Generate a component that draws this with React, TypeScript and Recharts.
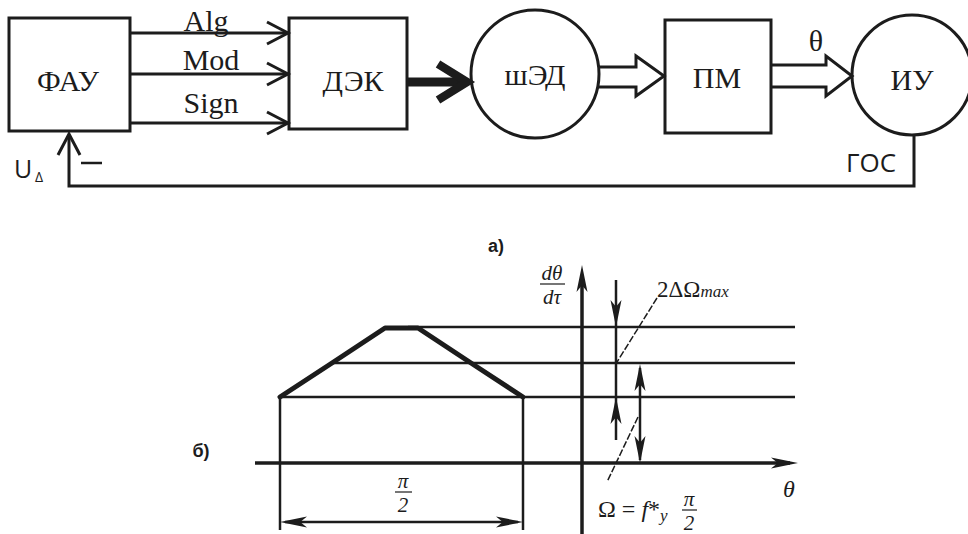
import React from 'react';
import { ComposedChart, XAxis, YAxis, Scatter, ReferenceArea, ReferenceDot } from 'recharts';

const W = 968;
const H = 534;
const INK = '#1c1c1c';
const SERIF = '"Liberation Serif", "Times New Roman", serif';
const SANS = '"Open Sans", "Liberation Sans", sans-serif';
const ARIAL = '"Liberation Sans", Arial, sans-serif';

type Pt = { x: number; y: number };

// ---------- a) block diagram ----------
const blocks = [
  { name: 'ФАУ', x1: 9, x2: 130, y1: 18, y2: 131 },
  { name: 'ДЭК', x1: 289, x2: 407, y1: 18, y2: 129 },
  { name: 'ПМ', x1: 665, x2: 771, y1: 20, y2: 133 },
];
const nodes = [
  { name: 'шЭД', x: 535, y: 74, r: 64 },
  { name: 'ИУ', x: 912, y: 75, r: 60 },
];
const signals = ['Alg', 'Mod', 'Sign'];
const signalY = [33, 74, 123];
const signalTextY = [31, 70, 113];
const signalTextX = [206, 211, 211];

const serifLabels = [
  { t: 'ФАУ', x: 68, y: 91 },
  { t: 'ДЭК', x: 353, y: 91 },
  { t: 'шЭД', x: 535, y: 85 },
  { t: 'ПМ', x: 717, y: 88 },
  { t: 'ИУ', x: 912, y: 90 },
  { t: 'θ', x: 816, y: 51 },
];

const boldArrow: Pt[] = [{ x: 407, y: 82 }, { x: 462, y: 82 }];
const boldHead: Pt[] = [{ x: 438, y: 64 }, { x: 467, y: 82 }, { x: 438, y: 100 }];
const hollowArrows: Pt[][] = [
  [{ x: 599, y: 67 }, { x: 636, y: 67 }, { x: 636, y: 56 }, { x: 664, y: 76 }, { x: 636, y: 96 }, { x: 636, y: 87 }, { x: 599, y: 87 }],
  [{ x: 771, y: 65 }, { x: 826, y: 65 }, { x: 826, y: 56 }, { x: 852, y: 76 }, { x: 826, y: 96 }, { x: 826, y: 87 }, { x: 771, y: 87 }],
];
const feedback: Pt[] = [{ x: 914, y: 135 }, { x: 914, y: 186 }, { x: 69, y: 186 }, { x: 69, y: 135 }];
const feedbackHead: Pt[] = [{ x: 58, y: 155 }, { x: 69, y: 134 }, { x: 80, y: 155 }];
const minusSign: Pt[] = [{ x: 81, y: 163 }, { x: 102, y: 163 }];

// ---------- б) speed graph ----------
const levels = [
  { y: 327, from: 408 },
  { y: 363, from: 332 },
  { y: 397, from: 280 },
];
const levelEnd = 795;
const curve: Pt[] = [
  { x: 280, y: 397 },
  { x: 332, y: 363 },
  { x: 385, y: 328 },
  { x: 418, y: 328 },
  { x: 471, y: 363 },
  { x: 523, y: 397 },
];
const axisH: Pt[] = [{ x: 255, y: 463 }, { x: 790, y: 463 }];
const axisV: Pt[] = [{ x: 582, y: 534 }, { x: 582, y: 275 }];
const thinLines: Pt[][] = [
  [{ x: 280, y: 397 }, { x: 280, y: 530 }],
  [{ x: 523, y: 397 }, { x: 523, y: 530 }],
  [{ x: 285, y: 522 }, { x: 518, y: 522 }],
  [{ x: 616, y: 280 }, { x: 616, y: 440 }],
  [{ x: 640, y: 368 }, { x: 640, y: 460 }],
];
const leaders: Pt[][] = [
  [{ x: 657, y: 298 }, { x: 617, y: 362 }],
  [{ x: 638, y: 417 }, { x: 607, y: 482 }],
];
const fractionBars: Pt[][] = [
  [{ x: 540, y: 284 }, { x: 565, y: 284 }],
  [{ x: 395, y: 492 }, { x: 412, y: 492 }],
  [{ x: 682, y: 510 }, { x: 697, y: 510 }],
];
const heads = [
  { x: 582, y: 265, dir: 'up' },
  { x: 798, y: 463, dir: 'right' },
  { x: 280, y: 522, dir: 'left' },
  { x: 523, y: 522, dir: 'right' },
  { x: 616, y: 327, dir: 'down' },
  { x: 616, y: 397, dir: 'up' },
  { x: 640, y: 364, dir: 'up' },
  { x: 640, y: 463, dir: 'down' },
];

const Empty = () => <g />;

const path = (key: string, pts: Pt[], w: number, extra: any = {}) => (
  <Scatter
    key={key}
    data={pts}
    dataKey="y"
    shape={Empty}
    line={{ stroke: INK, strokeWidth: w, fill: 'none', ...extra }}
    isAnimationActive={false}
  />
);

const label = (key: string, x: number, y: number, content: React.ReactNode, style: any, anchor = 'start') => (
  <ReferenceDot
    key={key}
    x={x}
    y={y}
    r={0}
    ifOverflow="visible"
    shape={(p: any) => (
      <text x={p.cx} y={p.cy} fill={INK} textAnchor={anchor} style={style}>
        {content}
      </text>
    )}
  />
);

const arrowHead = (dir: string) => (p: any) => {
  const { cx, cy } = p;
  const L = 27;
  const h = 5.5;
  let pts: number[][] = [];
  if (dir === 'up') pts = [[0, 0], [-h, L], [0, L * 0.75], [h, L]];
  if (dir === 'down') pts = [[0, 0], [-h, -L], [0, -L * 0.75], [h, -L]];
  if (dir === 'right') pts = [[0, 0], [-L, -h], [-L * 0.75, 0], [-L, h]];
  if (dir === 'left') pts = [[0, 0], [L, -h], [L * 0.75, 0], [L, h]];
  return <polygon points={pts.map(([dx, dy]) => `${cx + dx},${cy + dy}`).join(' ')} fill={INK} />;
};

const serif = { fontFamily: SERIF, fontSize: 30 };
const ital = { fontFamily: SERIF, fontStyle: 'italic', fontSize: 21 };

export default function App() {
  return (
    <div style={{ position: 'absolute', left: 0, top: 0, width: W, height: H, background: '#fff' }}>
      <ComposedChart width={W} height={H} margin={{ top: 0, right: 0, bottom: 0, left: 0 }}>
        <XAxis type="number" dataKey="x" domain={[0, W]} hide allowDataOverflow />
        <YAxis type="number" dataKey="y" domain={[0, H]} reversed hide allowDataOverflow />

        {blocks.map((b) => (
          <ReferenceArea key={b.name} x1={b.x1} x2={b.x2} y1={b.y1} y2={b.y2} fill="none" stroke={INK} strokeWidth={3} ifOverflow="visible" />
        ))}
        {nodes.map((n) => (
          <ReferenceDot key={n.name} x={n.x} y={n.y} r={n.r} fill="none" stroke={INK} strokeWidth={3} ifOverflow="visible" />
        ))}

        {signalY.map((y, i) => path(`sig${i}`, [{ x: 130, y }, { x: 288, y }], 3))}
        {signalY.map((y, i) =>
          path(`sigh${i}`, [{ x: 267, y: y - 11 }, { x: 288, y }, { x: 267, y: y + 11 }], 3)
        )}
        {path('bold', boldArrow, 9)}
        {path('boldh', boldHead, 8.5)}
        {hollowArrows.map((a, i) => path(`hol${i}`, a, 3))}
        {path('fb', feedback, 3)}
        {path('fbh', feedbackHead, 3)}
        {path('minus', minusSign, 2.5)}

        {levels.map((l, i) => path(`lvl${i}`, [{ x: l.from, y: l.y }, { x: levelEnd, y: l.y }], 2.5))}
        {path('axh', axisH, 3.5)}
        {path('axv', axisV, 3.5)}
        {thinLines.map((l, i) => path(`thin${i}`, l, 2.5))}
        {leaders.map((l, i) => path(`lead${i}`, l, 1.5, { strokeDasharray: '7 2' }))}
        {fractionBars.map((l, i) => path(`frac${i}`, l, 1.2))}
        {path('curve', curve, 5, { strokeLinejoin: 'round', strokeLinecap: 'round' })}
        {heads.map((h, i) => (
          <ReferenceDot key={`head${i}`} x={h.x} y={h.y} r={1} ifOverflow="visible" shape={arrowHead(h.dir)} />
        ))}

        {serifLabels.map((l) => label(`lab-${l.t}`, l.x, l.y, l.t, serif, 'middle'))}
        {signals.map((s, i) => label(`sl-${s}`, signalTextX[i], signalTextY[i], s, serif, 'middle'))}
        {label('goc', 871, 172, 'ГОС', { fontFamily: SANS, fontSize: 26 }, 'middle')}
        {label('u', 14, 178, 'U', { fontFamily: SANS, fontSize: 25 })}
        {label('delta', 35, 182, 'Δ', { fontFamily: SANS, fontSize: 14 })}
        {label('a', 496, 252, 'а)', { fontFamily: ARIAL, fontWeight: 'bold', fontSize: 18 }, 'middle')}
        {label('b', 201, 457, 'б)', { fontFamily: ARIAL, fontWeight: 'bold', fontSize: 18 }, 'middle')}

        {label('dth', 552, 280, 'dθ', ital, 'middle')}
        {label('dt', 552, 304, 'dτ', ital, 'middle')}
        {label('pi1', 403, 488, 'π', ital, 'middle')}
        {label('two1', 403, 512, '2', ital, 'middle')}
        {label('theta', 789, 497, 'θ', { ...ital, fontSize: 24 }, 'middle')}
        {label('dOm', 657, 297, (
          <>
            <tspan>2ΔΩ</tspan>
            <tspan style={{ fontStyle: 'italic', fontSize: 17 }}>max</tspan>
          </>
        ), { fontFamily: SERIF, fontSize: 23 })}
        {label('om', 598, 517, (
          <>
            <tspan>Ω = </tspan>
            <tspan style={{ fontStyle: 'italic' }}>f</tspan>
            <tspan>*</tspan>
            <tspan style={{ fontStyle: 'italic', fontSize: 17 }} dy={4}>y</tspan>
          </>
        ), { fontFamily: SERIF, fontSize: 24 })}
        {label('pi2', 689, 506, 'π', ital, 'middle')}
        {label('two2', 689, 530, '2', ital, 'middle')}
      </ComposedChart>
    </div>
  );
}
